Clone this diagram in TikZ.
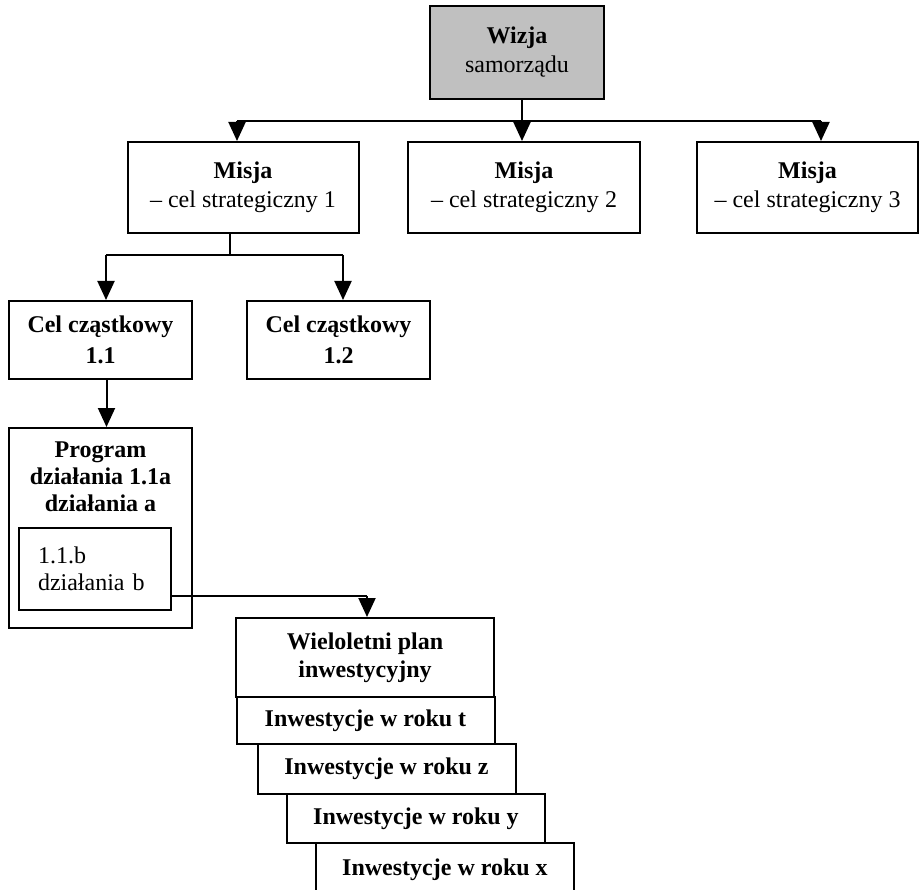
\documentclass[tikz,border=0pt]{standalone}
\usepackage{fontspec}
\setmainfont{Liberation Serif}
\usetikzlibrary{arrows.meta,positioning}
\definecolor{wizjagray}{RGB}{192,192,192}
\tikzset{
  boxnode/.style = {draw,line width=2pt,align=center,inner sep=2pt,
                    font=\fontsize{24pt}{29pt}\selectfont},
  stepnode/.style = {boxnode,font=\fontsize{24pt}{29pt}\selectfont\bfseries,
                    minimum width=258pt},
  downarr/.style  = {-{Triangle[length=19pt,width=17pt]},line width=2pt},
  busline/.style  = {line width=2pt}
}

\begin{document}
\begin{tikzpicture}[x=1pt,y=-1pt]
  \useasboundingbox (0,0) rectangle (920,890);
  \node[boxnode,fill=wizjagray,minimum width=174pt,minimum height=93pt] (wizja) at (517,52.5) {\textbf{Wizja}\\samorządu};
  \node[boxnode,minimum width=231pt,minimum height=91pt] (misja1) at (243,187.5) {\textbf{Misja}\\– cel strategiczny 1};
  \node[boxnode,minimum width=232pt,minimum height=91pt] (misja2) at (524,187.5) {\textbf{Misja}\\– cel strategiczny 2};
  \node[boxnode,minimum width=221pt,minimum height=91pt] (misja3) at (807.5,187.5) {\textbf{Misja}\\– cel strategiczny 3};
  \node[boxnode,font=\fontsize{24pt}{31pt}\selectfont\bfseries,minimum width=183pt,minimum height=78pt] (cel11) at (100.5,340) {Cel cząstkowy\\1.1};
  \node[boxnode,font=\fontsize{24pt}{31pt}\selectfont\bfseries,minimum width=183pt,minimum height=78pt] (cel12) at (338.5,340) {Cel cząstkowy\\1.2};
  \node[boxnode,minimum width=183pt,minimum height=200pt] (prog) at (100.5,528) {};
  \node[font=\fontsize{24pt}{27pt}\selectfont\bfseries,align=center,inner sep=2pt,below=13pt of prog.north] (progtxt) {Program\\działania 1.1a\\działania a};
  \node[boxnode,font=\fontsize{24pt}{27pt}\selectfont,align=left,text width=114pt,inner xsep=19pt,minimum height=82pt] (inner) at (95,569) {1.1.b\\działania b};
  \node[stepnode,font=\fontsize{24pt}{28pt}\selectfont\bfseries,minimum height=79pt] (plan) at (365,657.5) {Wieloletni plan\\inwestycyjny};
  \node[stepnode,minimum height=47pt] (rokt) at (365.5,720.5) {Inwestycje w roku t};
  \node[stepnode,minimum height=50pt] (rokz) at (386.5,769) {Inwestycje w roku z};
  \node[stepnode,minimum height=49pt] (roky) at (416,818.5) {Inwestycje w roku y};
  \node[stepnode,minimum height=54pt] (rokx) at (445,870) {Inwestycje w roku x};

  \coordinate (busL) at (237,121);
  \coordinate (busM) at (522,121);
  \coordinate (busR) at (821,121);
  \draw[busline] ([xshift=5pt]wizja.south) -- (busM);
  \draw[busline] (busL) -- (busR);
  \draw[downarr] (busL) -- (busL |- misja1.north);
  \draw[downarr] (busM) -- (busM |- misja2.north);
  \draw[downarr] (busR) -- (busR |- misja3.north);

  \coordinate (fork) at (230,255);
  \coordinate (forkL) at (106,255);
  \coordinate (forkR) at (343,255);
  \draw[busline] (fork |- misja1.south) -- (fork);
  \draw[busline] (forkL) -- (forkR);
  \draw[downarr] (forkL) -- (forkL |- cel11.north);
  \draw[downarr] (forkR) -- (forkR |- cel12.north);

  \draw[downarr] ([xshift=6pt]cel11.south) -- ([xshift=6pt]prog.north);

  \coordinate (planin) at (367,596);
  \draw[busline] (inner.east |- planin) -- (planin);
  \draw[downarr] (planin) -- (planin |- plan.north);
\end{tikzpicture}
\end{document}
